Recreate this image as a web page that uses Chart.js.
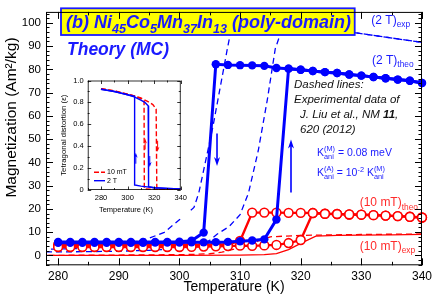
<!DOCTYPE html>
<html>
<head>
<meta charset="utf-8">
<script src="https://cdn.jsdelivr.net/npm/chart.js@4.4.0/dist/chart.umd.min.js"></script>
<style>
  html, body { margin: 0; padding: 0; background: #fff; }
  #wrap { position: relative; width: 436px; height: 297px; overflow: hidden; }
  #mainChart { position: absolute; left: 0; top: 0; }
  #insetBox { position: absolute; left: 56px; top: 72px; width: 134px; height: 146px; background: #fff; }
</style>
</head>
<body>
<div id="wrap">
  <canvas id="mainChart" width="436" height="297"></canvas>
  <div id="insetBox"><canvas id="insetChart" width="134" height="146"></canvas></div>
</div>
<script>
const fontFamily = "'Liberation Sans', Arial, Helvetica, sans-serif"
Chart.defaults.font.family = fontFamily
Chart.defaults.color = '#000'

const blue = '#0000ff'
const red  = '#ff0000'
const blueText = '#1a1aff'
const redText  = '#ff2a2a'

/* main axis ticks */
const tempTicks = [280, 290, 300, 310, 320, 330, 340]
const magTicks  = [0, 10, 20, 30, 40, 50, 60, 70, 80, 90, 100]

/* theory (MC), 2 T */
const theo2THeatT = [280, 282, 284, 286, 288, 290, 292, 294, 296, 298, 300, 302, 304, 306, 308, 310, 312, 314, 316, 318, 320, 322, 324, 326, 328, 330, 332, 334, 336, 338, 340]
const theo2THeatM = [5.4, 5.4, 5.4, 5.4, 5.4, 5.4, 5.4, 5.4, 5.5, 5.5, 5.5, 5.6, 5.6, 5.7, 5.8, 6.1, 6.4, 6.9, 15.4, 80.3, 79.8, 79.3, 78.8, 78.4, 77.8, 77.3, 76.7, 76.2, 75.6, 75.1, 74.1]
const theo2TCoolT = [340, 338, 336, 334, 332, 330, 328, 326, 324, 322, 320, 318, 316, 314, 312, 310, 308, 306, 304, 302, 300, 298, 296, 294, 292, 290, 288, 286, 284, 282, 280]
const theo2TCoolM = [74.1, 75.1, 75.6, 76.2, 76.7, 77.3, 77.8, 78.4, 78.8, 79.3, 79.8, 80.3, 80.6, 81.5, 81.7, 81.8, 81.9, 82.2, 9.8, 6.3, 5.9, 5.8, 5.8, 5.8, 5.8, 5.8, 5.8, 5.8, 5.8, 5.8, 5.8]

/* theory (MC), 10 mT */
const theo10HeatT = [280, 282, 284, 286, 288, 290, 292, 294, 296, 298, 300, 302, 304, 306, 308, 310, 312, 314, 316, 318, 320, 322, 324, 326, 328, 330, 332, 334, 336, 338, 340]
const theo10HeatM = [3.6, 3.6, 3.6, 3.6, 3.6, 3.6, 3.6, 3.6, 3.6, 3.6, 3.6, 3.7, 3.8, 3.9, 4.0, 4.2, 4.1, 4.3, 4.5, 5.3, 6.6, 18.2, 17.9, 17.8, 17.6, 17.5, 17.3, 17.1, 16.9, 16.6, 16.3]
const theo10CoolT = [340, 338, 336, 334, 332, 330, 328, 326, 324, 322, 320, 318, 316, 314, 312, 310, 308, 306, 304, 302, 300, 298, 296, 294, 292, 290, 288, 286, 284, 282, 280]
const theo10CoolM = [16.3, 16.6, 16.9, 17.1, 17.3, 17.5, 17.6, 17.8, 17.9, 18.2, 18.3, 18.3, 18.4, 18.4, 18.4, 6.2, 4.8, 4.6, 4.6, 4.6, 4.6, 4.6, 4.6, 4.6, 4.6, 4.6, 4.6, 4.6, 4.6, 4.6, 4.6]

/* experiment (J. Liu et al.), 2 T */
const exp2THeatT = [278, 285, 290, 295, 300, 303, 305, 306.2, 308.2, 310, 311.4, 313, 314.5, 315.8, 317, 318.5, 328.8, 340]
const exp2THeatM = [1.5, 1.6, 1.8, 2.2, 2.9, 4.2, 6.5, 9.1, 12.4, 17.5, 26.9, 45, 67, 88.8, 98, 99.4, 95.8, 91.6]
const exp2TCoolT = [340, 328.8, 318, 312, 309.5, 308.6, 307.9, 305.5, 303.2, 302.4, 300, 297.5, 295, 292, 288, 284, 278]
const exp2TCoolM = [91.6, 95.8, 99.6, 101.8, 102.2, 98, 88.8, 55, 26.9, 20.6, 15.3, 9.9, 7.4, 5.2, 3.8, 3.0, 2.6]

/* experiment, 10 mT */
const exp10HeatT = [278, 290, 300, 310, 314, 316, 318, 320, 322.5, 326, 330, 335, 340]
const exp10HeatM = [0, 0, 0, 0.1, 0.3, 0.8, 2.5, 5.2, 8.3, 8.6, 8.7, 8.8, 9.0]
const exp10CoolT = [340, 330, 320, 315, 313, 311, 309, 307, 305, 302, 295, 285, 278]
const exp10CoolM = [9.2, 9.0, 8.6, 8.0, 6.2, 4.2, 2.7, 1.4, 0.7, 0.4, 0.2, 0.1, 0.0]

/* inset: tetragonal distortion */
const insetTempTicks = [280, 300, 320, 340]
const insetEpsTicks  = [0, 0.2, 0.4, 0.6, 0.8, 1]
const inBlueHeatT = [280, 285, 290, 295, 300, 305, 310, 313, 315.5, 315.8, 320, 330, 340]
const inBlueHeatE = [0.92, 0.91, 0.9, 0.885, 0.87, 0.85, 0.82, 0.8, 0.77, 0.03, 0.02, 0.015, 0.01]
const inBlueCoolT = [340, 330, 320, 310, 305.5, 305.3, 300, 290, 280]
const inBlueCoolE = [0.01, 0.015, 0.02, 0.035, 0.045, 0.855, 0.87, 0.9, 0.92]
const inRedHeatT = [280, 285, 290, 295, 300, 305, 310, 315, 319, 321.5, 322, 330, 340]
const inRedHeatE = [0.925, 0.915, 0.905, 0.89, 0.875, 0.86, 0.84, 0.81, 0.78, 0.74, 0.005, 0.005, 0.005]
const inRedCoolT = [340, 330, 320, 312.6, 312.4, 310, 305, 300, 290, 280]
const inRedCoolE = [0.005, 0.005, 0.005, 0.01, 0.815, 0.835, 0.86, 0.875, 0.905, 0.925]


const pts = (xs, ys) => xs.map((x, i) => ({ x: x, y: ys[i] }))

const drawRich = (ctx, x, y, parts, size, style, weight, color) => {
	ctx.fillStyle = color
	ctx.textBaseline = 'alphabetic'
	ctx.textAlign = 'left'
	const fnt = (s, w) => `${style} ${w || weight} ${s}px ${fontFamily}`
	let cx = x
	for (const [txt, kind, txt2] of parts) {
		if (kind === 'sub' || kind === 'sup') {
			ctx.font = fnt(size * 0.7)
			ctx.fillText(txt, cx, y + (kind === 'sub' ? size * 0.28 : -size * 0.42))
			cx += ctx.measureText(txt).width
		} else if (kind === 'both') {
			ctx.font = fnt(size * 0.7)
			ctx.fillText(txt, cx, y - size * 0.45)
			ctx.fillText(txt2, cx, y + size * 0.32)
			cx += Math.max(ctx.measureText(txt).width, ctx.measureText(txt2).width)
		} else {
			ctx.font = fnt(size, kind === 'bold' ? 'bold' : weight)
			ctx.fillText(txt, cx, y)
			cx += ctx.measureText(txt).width
		}
	}
	return cx
}

const arrow = (ctx, x1, y1, x2, y2, color, lw, headLen, headW) => {
	const ang = Math.atan2(y2 - y1, x2 - x1)
	ctx.save()
	ctx.strokeStyle = color
	ctx.fillStyle = color
	ctx.lineWidth = lw
	ctx.beginPath()
	ctx.moveTo(x1, y1)
	ctx.lineTo(x2 - Math.cos(ang) * headLen * 0.6, y2 - Math.sin(ang) * headLen * 0.6)
	ctx.stroke()
	ctx.translate(x2, y2)
	ctx.rotate(ang)
	ctx.beginPath()
	ctx.moveTo(0, 0)
	ctx.lineTo(-headLen, -headW)
	ctx.lineTo(-headLen * 0.7, 0)
	ctx.lineTo(-headLen, headW)
	ctx.closePath()
	ctx.fill()
	ctx.restore()
}

/* frame + inward ticks on all four sides */
const frameTicks = {
	id: 'frameTicks',
	afterDraw(chart, args, o) {
		const { ctx, chartArea: a, scales: { x, y } } = chart
		ctx.save()
		ctx.strokeStyle = '#000'
		ctx.lineWidth = o.lw
		ctx.beginPath()
		const eps = 1e-6
		for (let v = Math.ceil(x.min / o.xMinor) * o.xMinor; v <= x.max + eps; v += o.xMinor) {
			const px = Math.round(x.getPixelForValue(v)) + 0.5
			const isMaj = Math.abs(v / o.xMajor - Math.round(v / o.xMajor)) < eps
			const len = isMaj ? o.major : o.minor
			ctx.moveTo(px, a.bottom); ctx.lineTo(px, a.bottom - len)
			ctx.moveTo(px, a.top); ctx.lineTo(px, a.top + len)
		}
		for (let v = Math.ceil(y.min / o.yMinor) * o.yMinor; v <= y.max + eps; v += o.yMinor) {
			const py = Math.round(y.getPixelForValue(v)) + 0.5
			const isMaj = Math.abs(v / o.yMajor - Math.round(v / o.yMajor)) < eps
			const len = isMaj ? o.major : o.minor
			ctx.moveTo(a.left, py); ctx.lineTo(a.left + len, py)
			ctx.moveTo(a.right, py); ctx.lineTo(a.right - len, py)
		}
		ctx.stroke()
		ctx.strokeRect(a.left + 0.5, a.top + 0.5, a.right - a.left - 1, a.bottom - a.top - 1)
		ctx.restore()
	}
}

/* texts, box and arrows of the main panel */
const mainNotes = {
	id: 'mainNotes',
	afterDatasetsDraw(chart) {
		const { ctx, scales: { x, y } } = chart
		ctx.save()

		// arrows on the 2 T loop
		arrow(ctx, x.getPixelForValue(306.2), y.getPixelForValue(52.4), x.getPixelForValue(306.2), y.getPixelForValue(38.4), blue, 1.6, 9, 3)
		arrow(ctx, x.getPixelForValue(318.4), y.getPixelForValue(27), x.getPixelForValue(318.4), y.getPixelForValue(49.8), blue, 1.6, 9, 3)

		// title box
		ctx.fillStyle = '#ffff00'
		ctx.fillRect(61, 8.3, 293.7, 26.7)
		ctx.strokeStyle = blueText
		ctx.lineWidth = 1.8
		ctx.strokeRect(61, 8.3, 293.7, 26.7)
		drawRich(ctx, 66, 28.3, [['(b) Ni'], ['45', 'sub'], ['Co'], ['5', 'sub'], ['Mn'], ['37', 'sub'], ['In'], ['13', 'sub'], [' (poly-domain)']], 18, 'italic', 'bold', blueText)
		drawRich(ctx, 67, 55, [['Theory (MC)']], 17.5, 'italic', 'bold', blueText)

		// curve labels
		drawRich(ctx, 371.3, 23.5, [['(2 T)'], ['exp', 'sub']], 12, 'normal', 'normal', blueText)
		drawRich(ctx, 372, 63.5, [['(2 T)'], ['theo', 'sub']], 12, 'normal', 'normal', blueText)
		drawRich(ctx, 359.7, 206.3, [['(10 mT)'], ['theo', 'sub']], 12, 'normal', 'normal', redText)
		drawRich(ctx, 359.7, 249.7, [['(10 mT)'], ['exp', 'sub']], 12, 'normal', 'normal', redText)

		// reference note
		drawRich(ctx, 294, 88.3, [['Dashed lines:']], 11.5, 'italic', 'normal', '#111')
		drawRich(ctx, 294, 103.3, [['Experimental data of']], 11.5, 'italic', 'normal', '#111')
		drawRich(ctx, 300, 118.3, [['J. Liu et al., NM '], ['11', 'bold'], [',']], 11.5, 'italic', 'normal', '#111')
		drawRich(ctx, 300, 133.3, [['620 (2012)']], 11.5, 'italic', 'normal', '#111')

		// anisotropy constants
		drawRich(ctx, 317, 156, [['K'], ['(M)', 'both', 'ani'], [' = 0.08 meV']], 10.5, 'normal', 'normal', blueText)
		drawRich(ctx, 317, 176, [['K'], ['(A)', 'both', 'ani'], [' = 10'], ['-2', 'sup'], [' K'], ['(M)', 'both', 'ani']], 10.5, 'normal', 'normal', blueText)

		// y axis title
		ctx.translate(12, 117.5)
		ctx.rotate(-Math.PI / 2)
		ctx.font = `15.5px ${fontFamily}`
		ctx.fillStyle = '#000'
		ctx.textAlign = 'center'
		ctx.textBaseline = 'middle'
		ctx.fillText('Magnetization (Am\u00B2/kg)', 0, 0)
		ctx.restore()
	}
}

const mainCtx = document.getElementById('mainChart').getContext('2d')
const mainChart = new Chart(mainCtx, {
	type: 'scatter',
	data: {
		datasets: [
			{ data: pts(theo2THeatT, theo2THeatM), showLine: true, borderColor: blue, borderWidth: 3, pointRadius: 4.2, pointBackgroundColor: blue, pointBorderWidth: 0, clip: 6 },
			{ data: pts(theo2TCoolT, theo2TCoolM), showLine: true, borderColor: blue, borderWidth: 3, pointRadius: 4.2, pointBackgroundColor: blue, pointBorderWidth: 0, clip: 6 },
			{ data: pts(theo10HeatT, theo10HeatM), showLine: true, borderColor: red, borderWidth: 2.4, pointRadius: 4.4, pointBackgroundColor: '#fff', pointBorderColor: red, pointBorderWidth: 1.6, clip: 6 },
			{ data: pts(theo10CoolT, theo10CoolM), showLine: true, borderColor: red, borderWidth: 2.4, pointRadius: 4.4, pointBackgroundColor: '#fff', pointBorderColor: red, pointBorderWidth: 1.6, clip: 6 },
			{ data: pts(exp2THeatT, exp2THeatM), showLine: true, borderColor: blue, borderWidth: 1.3, borderDash: [6, 4], pointRadius: 0, clip: 0 },
			{ data: pts(exp2TCoolT, exp2TCoolM), showLine: true, borderColor: blue, borderWidth: 1.3, borderDash: [6, 4], pointRadius: 0, clip: 0 },
			{ data: pts(exp10HeatT, exp10HeatM), showLine: true, borderColor: red, borderWidth: 1.3, pointRadius: 0, clip: 0 },
			{ data: pts(exp10CoolT, exp10CoolM), showLine: true, borderColor: red, borderWidth: 1.3, borderDash: [6, 4], pointRadius: 0, clip: 0 }
		]
	},
	options: {
		responsive: false,
		animation: false,
		events: [],
		layout: { padding: { top: 2, right: 11.3, left: 0, bottom: 0 } },
		plugins: {
			legend: { display: false },
			tooltip: { enabled: false },
			frameTicks: { lw: 1, xMajor: 10, xMinor: 5, yMajor: 10, yMinor: 2, major: 7, minor: 3.5 }
		},
		scales: {
			x: {
				type: 'linear', min: 278, max: 340,
				afterBuildTicks: s => { s.ticks = tempTicks.map(v => ({ value: v })) },
				afterFit: s => { s.height = 31.7 },
				grid: { display: false, drawTicks: false },
				border: { display: false },
				ticks: { padding: 4, font: { size: 12 }, maxRotation: 0, autoSkip: false },
				title: { display: true, text: 'Temperature (K)', font: { size: 14 }, padding: { top: 0, bottom: 1 } }
			},
			y: {
				type: 'linear', min: -4.26, max: 104.7,
				afterBuildTicks: s => { s.ticks = magTicks.map(v => ({ value: v })) },
				afterFit: s => { s.width = 46 },
				grid: { display: false, drawTicks: false },
				border: { display: false },
				ticks: { padding: 5, font: { size: 11.5 }, autoSkip: false }
			}
		}
	},
	plugins: [frameTicks, mainNotes]
})


/* inset: legend, arrows, x title */
const insetNotes = {
	id: 'insetNotes',
	afterDatasetsDraw(chart) {
		const { ctx, scales: { x, y } } = chart
		ctx.save()
		arrow(ctx, x.getPixelForValue(306.2), y.getPixelForValue(0.24), x.getPixelForValue(306.2), y.getPixelForValue(0.34), blue, 1, 5, 1.8)
		arrow(ctx, x.getPixelForValue(316.7), y.getPixelForValue(0.31), x.getPixelForValue(316.7), y.getPixelForValue(0.21), blue, 1, 5, 1.8)
		arrow(ctx, x.getPixelForValue(313.2), y.getPixelForValue(0.37), x.getPixelForValue(313.2), y.getPixelForValue(0.47), red, 1, 5, 1.8)
		arrow(ctx, x.getPixelForValue(322.6), y.getPixelForValue(0.45), x.getPixelForValue(322.6), y.getPixelForValue(0.35), red, 1, 5, 1.8)

		// legend
		ctx.lineWidth = 1.4
		ctx.strokeStyle = red
		ctx.setLineDash([5, 2])
		ctx.beginPath(); ctx.moveTo(38, 100.3); ctx.lineTo(49, 100.3); ctx.stroke()
		ctx.setLineDash([])
		ctx.strokeStyle = blue
		ctx.beginPath(); ctx.moveTo(38, 108.7); ctx.lineTo(49, 108.7); ctx.stroke()
		ctx.font = `7px ${fontFamily}`
		ctx.fillStyle = '#000'
		ctx.textBaseline = 'middle'
		ctx.fillText('10 mT', 51, 100.5)
		ctx.fillText('2 T', 51, 109)

		// x title, centred on the whole inset
		ctx.font = `7.5px ${fontFamily}`
		ctx.textAlign = 'center'
		ctx.fillText('Temperature (K)', 70, 137.5)
		ctx.restore()
	}
}

const insetCtx = document.getElementById('insetChart').getContext('2d')
const insetChart = new Chart(insetCtx, {
	type: 'scatter',
	data: {
		datasets: [
			{ data: pts(inBlueHeatT, inBlueHeatE), showLine: true, borderColor: blue, borderWidth: 1.4, pointRadius: 0 },
			{ data: pts(inBlueCoolT, inBlueCoolE), showLine: true, borderColor: blue, borderWidth: 1.4, pointRadius: 0 },
			{ data: pts(inRedHeatT, inRedHeatE), showLine: true, borderColor: red, borderWidth: 1.4, borderDash: [5, 2.5], pointRadius: 0 },
			{ data: pts(inRedCoolT, inRedCoolE), showLine: true, borderColor: red, borderWidth: 1.4, borderDash: [5, 2.5], pointRadius: 0 }
		]
	},
	options: {
		responsive: false,
		animation: false,
		events: [],
		layout: { padding: { top: 5.3, right: 4, left: 0, bottom: 0 } },
		plugins: {
			legend: { display: false },
			tooltip: { enabled: false },
			frameTicks: { lw: 0.8, xMajor: 20, xMinor: 10, yMajor: 0.2, yMinor: 0.1, major: 3.5, minor: 2 }
		},
		scales: {
			x: {
				type: 'linear', min: 270, max: 340,
				afterBuildTicks: s => { s.ticks = insetTempTicks.map(v => ({ value: v })) },
				afterFit: s => { s.height = 28 },
				grid: { display: false, drawTicks: false },
				border: { display: false },
				ticks: { padding: 3, font: { size: 7.5 }, maxRotation: 0, autoSkip: false }
			},
			y: {
				type: 'linear', min: 0, max: 1,
				afterBuildTicks: s => { s.ticks = insetEpsTicks.map(v => ({ value: v })) },
				afterFit: s => { s.width = 31.7 },
				grid: { display: false, drawTicks: false },
				border: { display: false },
				ticks: { padding: 4, font: { size: 7.5 }, autoSkip: false },
				title: { display: true, text: 'Tetragonal distortion (\u03B5)', font: { size: 7.8 }, padding: { top: 3, bottom: 0 } }
			}
		}
	},
	plugins: [frameTicks, insetNotes]
})
</script>
</body>
</html>
